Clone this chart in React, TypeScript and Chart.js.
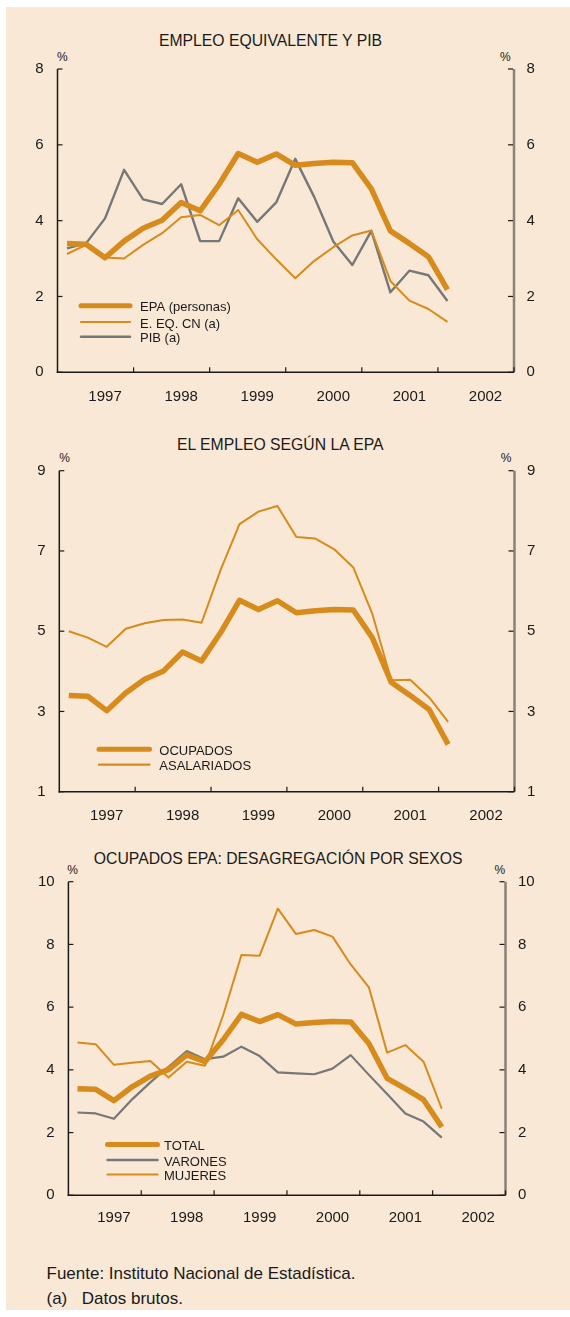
import React, { useEffect, useRef } from 'react';
import { Chart, registerables } from 'chart.js';

Chart.register(...registerables);

// ---- data ----
const QUARTERS = [
  '1997 I', '1997 II', '1997 III', '1997 IV',
  '1998 I', '1998 II', '1998 III', '1998 IV',
  '1999 I', '1999 II', '1999 III', '1999 IV',
  '2000 I', '2000 II', '2000 III', '2000 IV',
  '2001 I', '2001 II', '2001 III', '2001 IV',
  '2002 I', '2002 II', '2002 III', '2002 IV',
];
const YEARS = ['1997', '1998', '1999', '2000', '2001', '2002'];

const EPA_PERSONAS = [3.40, 3.38, 3.02, 3.46, 3.80, 4.01, 4.48, 4.26, 4.96, 5.77, 5.54, 5.76, 5.46, 5.51, 5.54, 5.53, 4.84, 3.73, 3.40, 3.05, 2.18];
const EEQ_CN = [3.12, 3.36, 3.03, 3.00, 3.36, 3.67, 4.09, 4.15, 3.88, 4.28, 3.51, 2.98, 2.48, 2.94, 3.30, 3.61, 3.74, 2.41, 1.89, 1.67, 1.33];
const PIB = [3.27, 3.40, 4.06, 5.34, 4.56, 4.44, 4.96, 3.46, 3.46, 4.59, 3.97, 4.48, 5.63, 4.62, 3.45, 2.83, 3.73, 2.11, 2.68, 2.56, 1.88];
const ASALARIADOS = [5.00, 4.84, 4.61, 5.06, 5.20, 5.28, 5.29, 5.21, 6.52, 7.67, 7.98, 8.12, 7.35, 7.31, 7.04, 6.59, 5.44, 3.78, 3.79, 3.35, 2.74];
const VARONES = [2.64, 2.61, 2.44, 3.06, 3.60, 4.10, 4.60, 4.34, 4.42, 4.74, 4.44, 3.92, 3.89, 3.86, 4.04, 4.47, 3.84, 3.23, 2.61, 2.35, 1.84];
const MUJERES = [4.87, 4.82, 4.16, 4.23, 4.28, 3.76, 4.26, 4.13, 5.75, 7.66, 7.64, 9.14, 8.33, 8.46, 8.25, 7.36, 6.63, 4.55, 4.79, 4.26, 2.76];

// ---- styles ----
const ORANGE = '#D68B1C';
const GRAY = '#777777';
const AXIS_GRAY = '#8a8179';
const INK = '#1a1a1a';
const BEIGE = '#F8E8D5';
const FONT = '"Liberation Sans", Arial, Helvetica, sans-serif';

const framePlugin = {
  id: 'frame',
  beforeDatasetsDraw(chart: any) {
    const { ctx, chartArea } = chart;
    const { left, right, top, bottom } = chartArea;
    const xs = chart.scales.x;
    const ys = chart.scales.y;
    const seg = (x1: number, y1: number, x2: number, y2: number) => {
      ctx.beginPath();
      ctx.moveTo(x1, y1);
      ctx.lineTo(x2, y2);
      ctx.stroke();
    };
    ctx.save();
    // right axis (grey)
    ctx.strokeStyle = AXIS_GRAY;
    ctx.lineWidth = 2.5;
    seg(right, top, right, bottom);
    // ticks
    ctx.strokeStyle = INK;
    ctx.lineWidth = 1.2;
    ys.ticks.forEach((t: any) => {
      const py = ys.getPixelForValue(t.value);
      seg(left, py, left + 5, py);
      seg(right - 6, py, right - 1, py);
    });
    for (let k = 1; k <= 6; k++) {
      const px = xs.getPixelForValue(4 * k - 0.5);
      seg(px, bottom, px, bottom - 5);
    }
    // left and bottom axis
    ctx.lineWidth = 1.5;
    seg(left, top, left, bottom + 0.75);
    seg(left - 0.75, bottom, right, bottom);
    ctx.restore();
  },
};

const legendPlugin = {
  id: 'lineLegend',
  afterDraw(chart: any, _args: any, opts: any) {
    const { ctx } = chart;
    ctx.save();
    chart.data.datasets.forEach((ds: any, i: number) => {
      const y = opts.rows[i];
      ctx.strokeStyle = ds.borderColor;
      ctx.lineWidth = ds.legendWidth;
      ctx.lineCap = 'round';
      ctx.beginPath();
      ctx.moveTo(opts.x0, y);
      ctx.lineTo(opts.x1, y);
      ctx.stroke();
      ctx.fillStyle = INK;
      ctx.font = `13px ${FONT}`;
      ctx.textBaseline = 'middle';
      ctx.textAlign = 'left';
      ctx.fillText(ds.label, opts.tx, y + 2);
    });
    ctx.restore();
  },
};

type Cfg = {
  yMin: number; yMax: number; padTop: number; leftW: number; rightW: number;
  xH: number; xPad: number; datasets: any[]; legend: any;
};

function makeConfig(c: Cfg): any {
  const yTicks = (pad: number) => ({
    stepSize: 2,
    padding: pad,
    color: INK,
    font: { family: FONT, size: 15 },
  });
  return {
    type: 'line',
    data: {
      labels: QUARTERS,
      datasets: c.datasets.map((d) => ({
        tension: 0,
        pointRadius: 0,
        borderJoinStyle: 'round',
        fill: false,
        ...d,
      })),
    },
    options: {
      responsive: false,
      devicePixelRatio: 1,
      animation: false,
      events: [],
      layout: { padding: { top: c.padTop, left: 0, right: 0, bottom: 0 } },
      plugins: {
        legend: { display: false },
        tooltip: { enabled: false },
        title: { display: false },
        lineLegend: c.legend,
      },
      scales: {
        x: {
          type: 'category',
          offset: true,
          grid: { display: false, drawTicks: false },
          border: { display: false },
          ticks: {
            autoSkip: false,
            maxRotation: 0,
            minRotation: 0,
            padding: c.xPad,
            color: INK,
            font: { family: FONT, size: 15 },
            callback: (_v: any, i: number) => (i % 4 === 2 ? YEARS[Math.floor(i / 4)] : ''),
          },
          afterFit: (s: any) => { s.height = c.xH; },
        },
        y: {
          position: 'left',
          min: c.yMin,
          max: c.yMax,
          grid: { display: false, drawTicks: false },
          border: { display: false },
          ticks: yTicks(13.8),
          afterFit: (s: any) => { s.width = c.leftW; },
        },
        y2: {
          position: 'right',
          min: c.yMin,
          max: c.yMax,
          grid: { display: false, drawTicks: false },
          border: { display: false },
          ticks: yTicks(12.5),
          afterFit: (s: any) => { s.width = c.rightW; },
        },
      },
    },
    plugins: [framePlugin, legendPlugin],
  };
}

const CHART1 = (): any => makeConfig({
  yMin: 0, yMax: 8, padTop: 39, leftW: 57.5, rightW: 56, xH: 47.7, xPad: 15.4,
  datasets: [
    { label: 'EPA (personas)', data: EPA_PERSONAS, borderColor: ORANGE, borderWidth: 5.5, legendWidth: 5 },
    { label: 'E. EQ. CN (a)', data: EEQ_CN, borderColor: ORANGE, borderWidth: 2, legendWidth: 2.2 },
    { label: 'PIB (a)', data: PIB, borderColor: GRAY, borderWidth: 2.4, legendWidth: 2.5 },
  ],
  legend: { x0: 81, x1: 130, tx: 140, rows: [275.7, 292, 306.7] },
});

const CHART2 = (): any => makeConfig({
  yMin: 1, yMax: 9, padTop: 40.7, leftW: 59.3, rightW: 55.5, xH: 38.3, xPad: 15,
  datasets: [
    { label: 'OCUPADOS', data: EPA_PERSONAS, borderColor: ORANGE, borderWidth: 5.5, legendWidth: 5 },
    { label: 'ASALARIADOS', data: ASALARIADOS, borderColor: ORANGE, borderWidth: 2, legendWidth: 2.2 },
  ],
  legend: { x0: 99, x1: 149.5, tx: 159.3, rows: [319.3, 334.7] },
});

const CHART3 = (): any => makeConfig({
  yMin: 0, yMax: 10, padTop: 41.7, leftW: 68.4, rightW: 64.5, xH: 44.7, xPad: 14,
  datasets: [
    { label: 'TOTAL', data: EPA_PERSONAS, borderColor: ORANGE, borderWidth: 5.5, legendWidth: 5 },
    { label: 'VARONES', data: VARONES, borderColor: GRAY, borderWidth: 2.2, legendWidth: 2.5 },
    { label: 'MUJERES', data: MUJERES, borderColor: ORANGE, borderWidth: 2, legendWidth: 2.2 },
  ],
  legend: { x0: 107.5, x1: 157.5, tx: 164, rows: [304.5, 320, 334.5] },
});

function LineCanvas({ make, top, height }: { make: () => any; top: number; height: number }) {
  const ref = useRef<HTMLCanvasElement>(null);
  useEffect(() => {
    const chart = new Chart(ref.current as HTMLCanvasElement, make());
    return () => chart.destroy();
  }, []);
  return (
    <canvas
      ref={ref}
      width={570}
      height={height}
      style={{ position: 'absolute', left: 0, top, width: 570, height, display: 'block' }}
    />
  );
}

const txt = (extra: React.CSSProperties): React.CSSProperties => ({
  position: 'absolute',
  fontFamily: FONT,
  color: INK,
  whiteSpace: 'nowrap',
  lineHeight: 1,
  ...extra,
});

function Pct({ cx, cy }: { cx: number; cy: number }) {
  return <div style={txt({ left: cx - 5.5, top: cy - 6.5, fontSize: 12 })}>%</div>;
}

export default function App() {
  return (
    <div style={{ position: 'absolute', left: 0, top: 0, width: 570, height: 1317, background: '#ffffff', overflow: 'hidden' }}>
      <div style={{ position: 'absolute', left: 6, top: 7, width: 564, height: 1303, background: BEIGE }} />

      <div style={txt({ left: 158.9, top: 32.9, fontSize: 15.75 })}>EMPLEO EQUIVALENTE Y PIB</div>
      <Pct cx={62.5} cy={57} />
      <Pct cx={505.5} cy={57} />
      <LineCanvas make={CHART1} top={30} height={390} />

      <div style={txt({ left: 177, top: 437.2, fontSize: 15.75 })}>EL EMPLEO SEGÚN LA EPA</div>
      <Pct cx={64.7} cy={458} />
      <Pct cx={506.2} cy={458} />
      <LineCanvas make={CHART2} top={430} height={400} />

      <div style={txt({ left: 93.8, top: 850.5, fontSize: 15.75 })}>OCUPADOS EPA: DESAGREGACIÓN POR SEXOS</div>
      <Pct cx={72.7} cy={870.7} />
      <Pct cx={500} cy={870.7} />
      <LineCanvas make={CHART3} top={840} height={400} />

      <div style={txt({ left: 46.5, top: 1265, fontSize: 17 })}>Fuente: Instituto Nacional de Estadística.</div>
      <div style={txt({ left: 46.5, top: 1290, fontSize: 17 })}>
        <span style={{ display: 'inline-block', width: 35.3 }}>(a)</span>Datos brutos.
      </div>
    </div>
  );
}
